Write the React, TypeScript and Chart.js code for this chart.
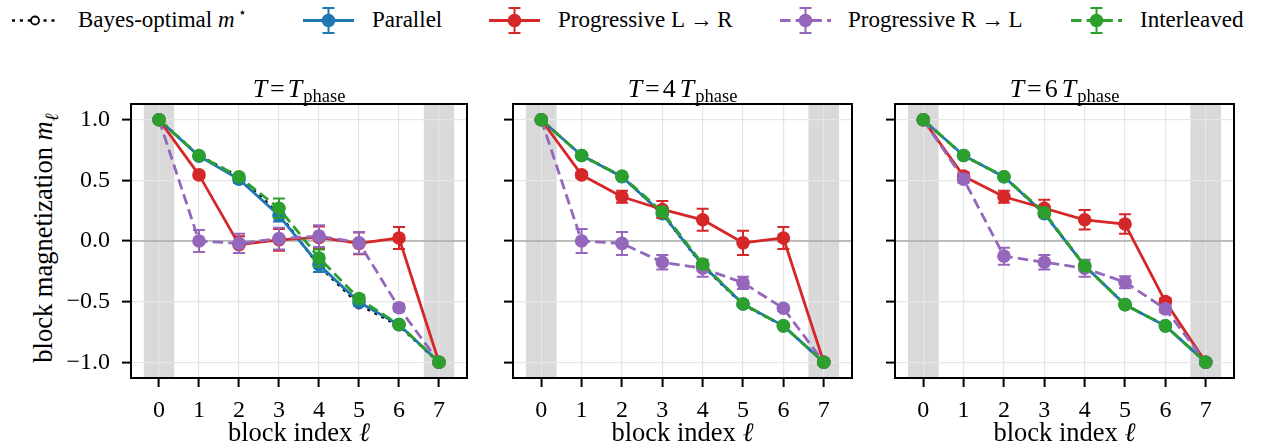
import React, { useEffect, useRef } from "react";
import { Chart, registerables } from "chart.js";

Chart.register(...registerables);

// ---------------- data ----------------
const blockIndex = [0, 1, 2, 3, 4, 5, 6, 7];
const xTickValues = [0, 1, 2, 3, 4, 5, 6, 7];
const yTickValues = [-1, -0.5, 0, 0.5, 1];
const yTickLabels = ["\u22121.0", "\u22120.5", "0.0", "0.5", "1.0"];
const boundaryBands = [
  [-0.38, 0.38],
  [6.62, 7.38],
];

const bayesOptimal = [1.0, 0.705, 0.53, 0.225, -0.205, -0.525, -0.70, -1.0];

// T = T_phase
const parallel1 = [1.0, 0.70, 0.51, 0.21, -0.195, -0.505, -0.69, -1.0];
const parallel1Err = [0, 0.01, 0.03, 0.05, 0.06, 0.03, 0.01, 0];
const progLR1 = [1.0, 0.545, -0.03, 0.01, 0.03, -0.02, 0.025, -1.0];
const progLR1Err = [0, 0.025, 0.07, 0.09, 0.09, 0.09, 0.09, 0];
const progRL1 = [1.0, 0.0, -0.02, 0.02, 0.04, -0.015, -0.55, -1.0];
const progRL1Err = [0, 0.09, 0.08, 0.09, 0.09, 0.09, 0.03, 0];
const interleaved1 = [1.0, 0.705, 0.53, 0.27, -0.14, -0.475, -0.69, -1.0];
const interleaved1Err = [0, 0.01, 0.02, 0.08, 0.07, 0.03, 0.01, 0];

// T = 4 T_phase
const parallel2 = [1.0, 0.705, 0.53, 0.225, -0.2, -0.52, -0.70, -1.0];
const parallel2Err = [0, 0.01, 0.01, 0.01, 0.01, 0.01, 0.01, 0];
const progLR2 = [1.0, 0.545, 0.365, 0.26, 0.175, -0.015, 0.025, -1.0];
const progLR2Err = [0, 0.025, 0.05, 0.07, 0.09, 0.1, 0.09, 0];
const progRL2 = [1.0, 0.0, -0.02, -0.175, -0.225, -0.345, -0.555, -1.0];
const progRL2Err = [0, 0.1, 0.095, 0.06, 0.07, 0.05, 0.02, 0];
const interleaved2 = [1.0, 0.705, 0.535, 0.24, -0.19, -0.52, -0.70, -1.0];
const interleaved2Err = [0, 0.01, 0.01, 0.01, 0.01, 0.01, 0.01, 0];

// T = 6 T_phase
const parallel3 = [1.0, 0.705, 0.53, 0.225, -0.205, -0.525, -0.70, -1.0];
const parallel3Err = [0, 0.01, 0.01, 0.01, 0.01, 0.01, 0.01, 0];
const progLR3 = [1.0, 0.535, 0.365, 0.27, 0.175, 0.14, -0.50, -1.0];
const progLR3Err = [0, 0.03, 0.05, 0.07, 0.08, 0.08, 0.03, 0];
const progRL3 = [1.0, 0.51, -0.125, -0.175, -0.225, -0.34, -0.56, -1.0];
const progRL3Err = [0, 0.03, 0.07, 0.06, 0.07, 0.05, 0.03, 0];
const interleaved3 = [1.0, 0.705, 0.53, 0.235, -0.205, -0.525, -0.70, -1.0];
const interleaved3Err = [0, 0.01, 0.01, 0.01, 0.01, 0.01, 0.01, 0];

const seriesNames = ["Bayes-optimal", "Parallel", "Progressive L\u2009\u2192\u2009R", "Progressive R\u2009\u2192\u2009L", "Interleaved"];
const seriesColors = ["#000000", "#1f77b4", "#d62728", "#9467bd", "#2ca02c"];
const titleMultipliers = ["", "4", "6"];

// ---------------- styling ----------------
const FONT = "'Liberation Serif', 'Times New Roman', serif";
Chart.defaults.font.family = FONT;
const DASH = [10.5, 5.2];
const DOT = [3, 4.9];
const MARKER_R = 6.8;

const panels = [
  { box: [131, 467], yW: 131, showY: true, mult: titleMultipliers[0],
    series: [[parallel1, parallel1Err], [progLR1, progLR1Err], [progRL1, progRL1Err], [interleaved1, interleaved1Err]] },
  { box: [513, 852], yW: 24, showY: false, mult: titleMultipliers[1],
    series: [[parallel2, parallel2Err], [progLR2, progLR2Err], [progRL2, progRL2Err], [interleaved2, interleaved2Err]] },
  { box: [895, 1234], yW: 24, showY: false, mult: titleMultipliers[2],
    series: [[parallel3, parallel3Err], [progLR3, progLR3Err], [progRL3, progRL3Err], [interleaved3, interleaved3Err]] },
];

const CANVAS_TOP = 90;
const PLOT_TOP = 104;
const PLOT_BOTTOM = 378;
const CANVAS_H = 448 - CANVAS_TOP;
const RIGHT_PAD = 8;

const decorPlugin = {
  id: "panelDecor",
  beforeDraw(chart: any) {
    const { ctx, chartArea, scales } = chart;
    ctx.save();
    ctx.beginPath();
    ctx.rect(chartArea.left, chartArea.top, chartArea.right - chartArea.left, chartArea.bottom - chartArea.top);
    ctx.clip();
    ctx.fillStyle = "#d9d9d9";
    for (const [a, b] of boundaryBands) {
      const x1 = scales.x.getPixelForValue(a);
      const x2 = scales.x.getPixelForValue(b);
      ctx.fillRect(x1, chartArea.top, x2 - x1, chartArea.bottom - chartArea.top);
    }
    ctx.restore();
  },
  beforeDatasetsDraw(chart: any) {
    const { ctx, chartArea, scales } = chart;
    const y0 = scales.y.getPixelForValue(0);
    ctx.save();
    ctx.strokeStyle = "#8c8c8c";
    ctx.lineWidth = 1.2;
    ctx.beginPath();
    ctx.moveTo(chartArea.left, y0);
    ctx.lineTo(chartArea.right, y0);
    ctx.stroke();
    ctx.restore();
  },
  beforeDatasetDraw(chart: any, args: any) {
    const ds = chart.data.datasets[args.index];
    if (!ds.errors) return;
    const { ctx, scales } = chart;
    ctx.save();
    ctx.strokeStyle = ds.borderColor;
    ctx.lineWidth = 2;
    ctx.setLineDash([]);
    ds.data.forEach((p: any, i: number) => {
      const e = ds.errors[i];
      if (!e) return;
      const x = scales.x.getPixelForValue(p.x);
      const yt = scales.y.getPixelForValue(p.y + e);
      const yb = scales.y.getPixelForValue(p.y - e);
      ctx.beginPath();
      ctx.moveTo(x, yt);
      ctx.lineTo(x, yb);
      ctx.moveTo(x - 6, yt);
      ctx.lineTo(x + 6, yt);
      ctx.moveTo(x - 6, yb);
      ctx.lineTo(x + 6, yb);
      ctx.stroke();
    });
    ctx.restore();
  },
  afterDraw(chart: any) {
    const { ctx, chartArea } = chart;
    ctx.save();
    ctx.strokeStyle = "#000";
    ctx.lineWidth = 2;
    ctx.strokeRect(chartArea.left, chartArea.top, chartArea.right - chartArea.left, chartArea.bottom - chartArea.top);
    ctx.restore();
  },
};

function makeDataset(idx: number, ys: number[], errs: number[] | null) {
  const color = seriesColors[idx];
  const isBayes = idx === 0;
  const dashed = idx === 3 || idx === 4;
  return {
    label: seriesNames[idx],
    data: blockIndex.map((x, i) => ({ x, y: ys[i] })),
    errors: errs,
    borderColor: color,
    backgroundColor: color,
    borderWidth: isBayes ? 2.6 : 2.8,
    borderDash: isBayes ? DOT : dashed ? DASH : [],
    borderJoinStyle: "round",
    pointRadius: isBayes ? 4 : MARKER_R,
    pointHoverRadius: isBayes ? 4 : MARKER_R,
    pointBackgroundColor: isBayes ? "#ffffff" : color,
    pointBorderColor: isBayes ? "#000000" : color,
    pointBorderWidth: isBayes ? 1.8 : 0,
    tension: 0,
    fill: false,
    order: 4 - idx,
  };
}

function zeroPadding(s: any) {
  s.paddingTop = 0;
  s.paddingBottom = 0;
  s.paddingLeft = 0;
  s.paddingRight = 0;
}

function Panel({ p }: { p: any }) {
  const ref = useRef<HTMLCanvasElement | null>(null);
  const left = p.box[0] - p.yW;
  const width = p.box[1] + RIGHT_PAD - left;
  useEffect(() => {
    if (!ref.current) return;
    const datasets: any[] = [makeDataset(0, bayesOptimal, null)];
    p.series.forEach((s: any, k: number) => datasets.push(makeDataset(k + 1, s[0], s[1])));
    const chart = new Chart(ref.current, {
      type: "line",
      data: { datasets },
      plugins: [decorPlugin],
      options: {
        animation: false,
        responsive: false,
        maintainAspectRatio: false,
        events: [],
        layout: { padding: { top: PLOT_TOP - CANVAS_TOP, right: RIGHT_PAD, left: 0, bottom: 0 } },
        plugins: { legend: { display: false }, tooltip: { enabled: false }, title: { display: false } },
        scales: {
          x: {
            type: "linear",
            min: -0.7,
            max: 7.7,
            afterBuildTicks: (s: any) => {
              s.ticks = xTickValues.map((v) => ({ value: v }));
            },
            afterFit: (s: any) => {
              s.height = CANVAS_H - (PLOT_BOTTOM - CANVAS_TOP);
              zeroPadding(s);
            },
            ticks: {
              color: "#000",
              font: { family: FONT, size: 24 },
              padding: 9,
              maxRotation: 0,
              autoSkip: false,
              callback: (v: any) => String(v),
            },
            grid: { color: "#e6e6e6", lineWidth: 1.2, tickColor: "#000", tickWidth: 2, tickLength: 9, drawTicks: true },
            border: { display: false },
          },
          y: {
            type: "linear",
            min: -1.13,
            max: 1.13,
            afterBuildTicks: (s: any) => {
              s.ticks = yTickValues.map((v) => ({ value: v }));
            },
            afterFit: (s: any) => {
              s.width = p.yW;
              zeroPadding(s);
            },
            ticks: {
              display: p.showY,
              color: "#000",
              font: { family: FONT, size: 24 },
              padding: 12,
              autoSkip: false,
              callback: (_v: any, i: number) => yTickLabels[i],
            },
            grid: { color: "#e6e6e6", lineWidth: 1.2, tickColor: "#000", tickWidth: 2, tickLength: 9, drawTicks: true },
            border: { display: false },
          },
        },
      } as any,
    });
    return () => chart.destroy();
  }, []);
  const center = (p.box[0] + p.box[1]) / 2;
  return (
    <>
      <canvas
        ref={ref}
        width={width}
        height={CANVAS_H}
        style={{ position: "absolute", left, top: CANVAS_TOP, width, height: CANVAS_H }}
      />
      <div
        style={{
          position: "absolute",
          left: center,
          top: 76,
          transform: "translateX(-50%)",
          fontSize: 26,
          lineHeight: 1,
          whiteSpace: "nowrap",
          fontFamily: FONT,
        }}
      >
        <i>T</i>
        <span style={{ margin: "0 3px" }}>=</span>
        {p.mult ? <span style={{ marginRight: 4 }}>{p.mult}</span> : null}
        <i>T</i>
        <span style={{ fontSize: 18.5, position: "relative", top: 5, marginLeft: 1 }}>phase</span>
      </div>
      <div
        style={{
          position: "absolute",
          left: center,
          top: 419,
          transform: "translateX(-50%)",
          fontSize: 26.5,
          lineHeight: 1,
          whiteSpace: "nowrap",
          fontFamily: FONT,
        }}
      >
        block index <i>ℓ</i>
      </div>
    </>
  );
}

function LegendHandle({ x1, x2, idx }: { x1: number; x2: number; idx: number }) {
  const w = x2 - x1;
  const cy = 20.5;
  const color = seriesColors[idx];
  const isBayes = idx === 0;
  const dashed = idx === 3 || idx === 4;
  const dash = isBayes ? "3 4.9" : dashed ? "10.5 5.2" : undefined;
  return (
    <svg style={{ position: "absolute", left: x1, top: 0 }} width={w} height={40}>
      <line x1={0} y1={cy} x2={w} y2={cy} stroke={color} strokeWidth={isBayes ? 2.6 : 2.8} strokeDasharray={dash} />
      {!isBayes && (
        <g stroke={color} strokeWidth={2}>
          <line x1={w / 2} y1={8} x2={w / 2} y2={33} />
          <line x1={w / 2 - 6} y1={8} x2={w / 2 + 6} y2={8} />
          <line x1={w / 2 - 6} y1={33} x2={w / 2 + 6} y2={33} />
        </g>
      )}
      <circle
        cx={w / 2}
        cy={cy}
        r={isBayes ? 4 : MARKER_R}
        fill={isBayes ? "#fff" : color}
        stroke={isBayes ? "#000" : "none"}
        strokeWidth={1.8}
      />
    </svg>
  );
}

const legendLayout = [
  { h: [12, 58], t: 78 },
  { h: [303, 354], t: 372 },
  { h: [489, 540], t: 558 },
  { h: [780, 831], t: 848 },
  { h: [1071, 1122], t: 1140 },
];

export default function App() {
  return (
    <div style={{ position: "relative", width: 1262, height: 448, background: "#fff", overflow: "hidden", fontFamily: FONT, color: "#000" }}>
      <style>{"body{margin:0;background:#fff}"}</style>
      {legendLayout.map((l, i) => (
        <React.Fragment key={i}>
          <LegendHandle x1={l.h[0]} x2={l.h[1]} idx={i} />
          <div style={{ position: "absolute", left: l.t, top: 8, fontSize: 23, lineHeight: 1, whiteSpace: "nowrap" }}>
            {i === 0 ? (
              <>
                {seriesNames[0]} <i>m</i>
                <span style={{ fontSize: 14, position: "relative", top: -10, marginLeft: 3 }}>⋆</span>
              </>
            ) : (
              seriesNames[i]
            )}
          </div>
        </React.Fragment>
      ))}
      <div
        style={{
          position: "absolute",
          left: 43,
          top: 238,
          transform: "translate(-50%, -50%) rotate(-90deg)",
          fontSize: 26.5,
          lineHeight: 1,
          whiteSpace: "nowrap",
        }}
      >
        block magnetization <i>m</i>
        <span style={{ fontSize: 19, position: "relative", top: 6 }}>
          <i>ℓ</i>
        </span>
      </div>
      {panels.map((p, i) => (
        <Panel key={i} p={p} />
      ))}
    </div>
  );
}
